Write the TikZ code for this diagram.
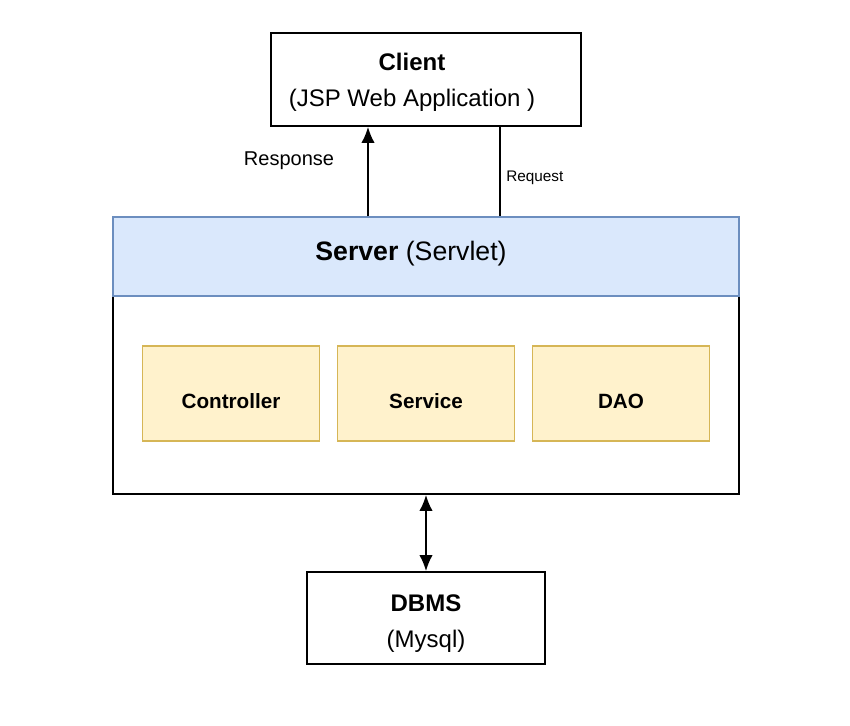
\documentclass[tikz,border=0pt]{standalone}
\usepackage{fontspec}
\setmainfont{Liberation Sans}
\usetikzlibrary{arrows.meta}
\definecolor{headerfill}{HTML}{DAE8FC}
\definecolor{headerdraw}{HTML}{6C8EBF}
\definecolor{layerfill}{HTML}{FFF2CC}
\definecolor{layerdraw}{HTML}{D6B656}
\tikzset{
  plainbox/.style={draw=black, line width=1.3pt, fill=white, align=center,
    font=\fontsize{18}{27}\selectfont},
  layerbox/.style={draw=layerdraw, line width=0.8pt, fill=layerfill,
    minimum width=132.75pt, minimum height=71.25pt, text height=23pt, text depth=0pt,
    font=\bfseries\fontsize{15.5}{18}\selectfont},
  flow/.style={line width=1.3pt, -{Latex[length=12pt,width=10pt]}},
  bothflow/.style={line width=1.3pt, {Latex[length=12pt,width=10pt]}-{Latex[length=12pt,width=10pt]}}
}
\begin{document}
\begin{tikzpicture}[x=0.75pt, y=-0.75pt]
    \useasboundingbox (0,0) rectangle (850,725);

    % Draw the client
    \node[plainbox, minimum width=232.5pt, minimum height=69.75pt] (client) at (426,79.5)
        {\rule{0pt}{17.5pt}\textbf{Client}\rule{21pt}{0pt}\\(JSP Web Application )\rule{21pt}{0pt}};

    % Draw the server body and its header
    \node[draw=black, line width=1.3pt, minimum width=469.5pt, minimum height=148.5pt] (serverbody) at (426,395) {};
    \node[draw=headerdraw, line width=1pt, fill=headerfill, minimum width=469.5pt, minimum height=59.25pt,
        text depth=9pt, font=\fontsize{20}{24}\selectfont] (server) at (426,256.5) {\textbf{Server} (Servlet)\rule{22.5pt}{0pt}};

    % Draw the layers
    \node[layerbox] (controller) at (231,393.5) {Controller};
    \node[layerbox] (service) at (426,393.5) {Service};
    \node[layerbox] (dao) at (621,393.5) {DAO};

    % Draw the database
    \node[plainbox, minimum width=178.5pt, minimum height=69pt] (dbms) at (426,618)
        {\rule{0pt}{21pt}\textbf{DBMS}\\(Mysql)};

    % Draw the response and request lines
    \coordinate (respx) at (368,0);
    \coordinate (reqx) at (500,0);
    \draw[flow] (server.north -| respx) -- (client.south -| respx);
    \draw[line width=1.3pt] (client.south -| reqx) -- (server.north -| reqx);

    % Labels for the lines
    \node[font=\fontsize{15}{18}\selectfont] (resplabel) at (289,161) {Response};
    \node[anchor=west, inner sep=0pt, font=\fontsize{11.5}{14}\selectfont] (reqlabel) at (506,178) {Request};

    % Draw the database link
    \draw[bothflow] (serverbody.south) -- (dbms.north);
\end{tikzpicture}
\end{document}
